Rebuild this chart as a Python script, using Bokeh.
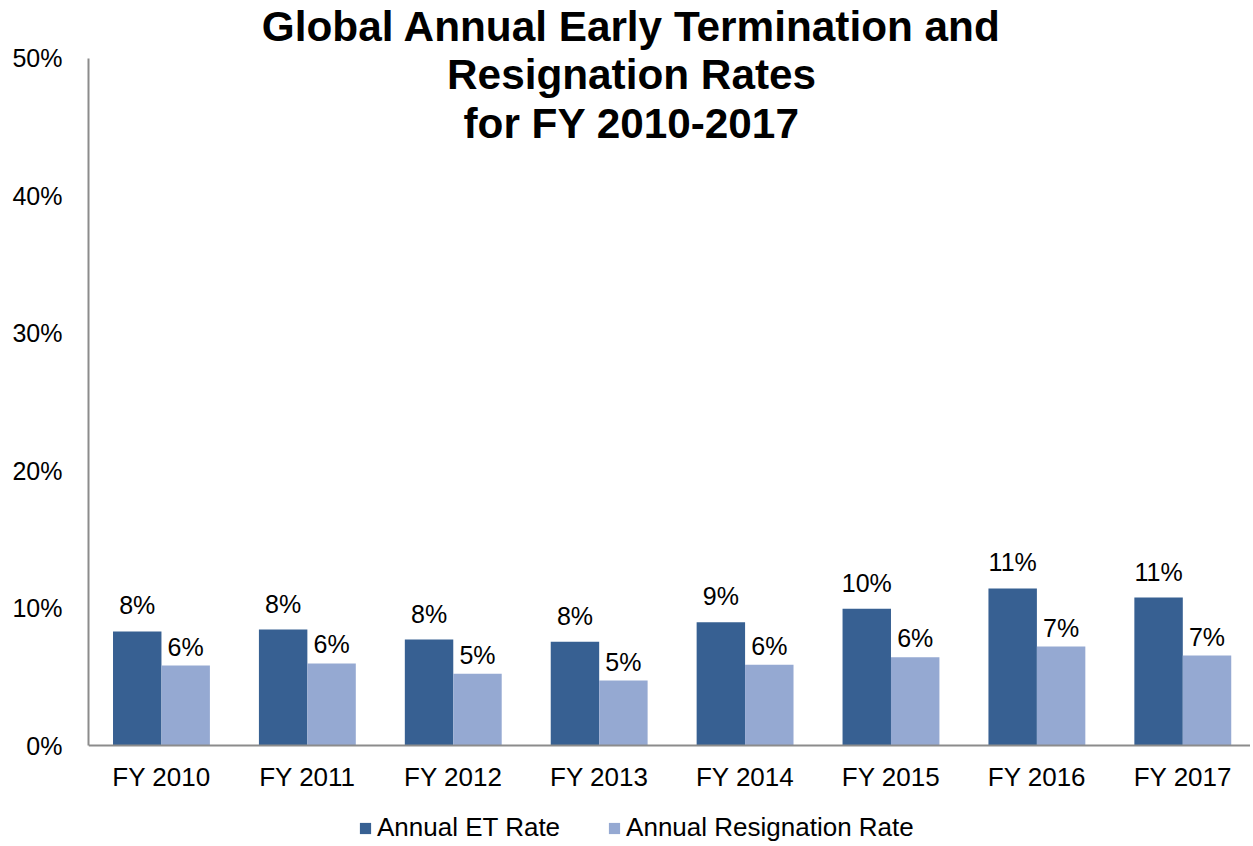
import numpy as np
from bokeh.plotting import figure
from bokeh.models import (ColumnDataSource, Range1d, FixedTicker, PrintfTickFormatter,
                          Legend, LegendItem, Span)
from bokeh.transform import dodge
from bokeh.core.properties import value
from bokeh.embed import file_html
from bokeh.resources import INLINE

# ---- data ----
categories = ["FY 2010", "FY 2011", "FY 2012", "FY 2013", "FY 2014", "FY 2015", "FY 2016", "FY 2017"]
et_rate = [8.30, 8.44, 7.71, 7.55, 8.97, 9.95, 11.43, 10.77]
resignation_rate = [5.82, 5.97, 5.22, 4.73, 5.87, 6.43, 7.20, 6.55]
y_ticks = [0, 10, 20, 30, 40, 50]
title_lines = ["Global Annual Early Termination and", "Resignation Rates", "for FY 2010-2017"]
series_names = ["Annual ET Rate", "Annual Resignation Rate"]

ET_COLOR = "#376092"
RES_COLOR = "#95A9D2"
FONT = "Liberation Sans"
AX = "#8c8c8c"

n = len(categories)
xpos = np.arange(n) + 0.5
src = ColumnDataSource(dict(
    x=xpos,
    cat=categories,
    zero=[0] * n,
    et=et_rate,
    res=resignation_rate,
    et_lbl=[f"{round(v)}%" for v in et_rate],
    res_lbl=[f"{round(v)}%" for v in resignation_rate],
))

W, H = 1250, 843
p = figure(width=W, height=H, output_backend="svg", toolbar_location=None,
           x_axis_location=None,
           x_range=Range1d(0, 7.964), y_range=Range1d(-7.13, 54.22),
           min_border_left=88, min_border_right=0, min_border_top=0, min_border_bottom=0)
p.outline_line_color = None
p.xgrid.visible = False
p.ygrid.visible = False
p.background_fill_color = "white"
p.border_fill_color = "white"

bw = 0.332
r_et = p.vbar(x=dodge("x", -bw / 2, range=p.x_range), top="et", width=bw, source=src,
              fill_color=ET_COLOR, line_color=None)
r_res = p.vbar(x=dodge("x", bw / 2, range=p.x_range), top="res", width=bw, source=src,
               fill_color=RES_COLOR, line_color=None)

# category axis line and labels
p.add_layout(Span(location=0, dimension="width", line_color=AX, line_width=2))
p.text(x="x", y="zero", text="cat", source=src, text_align="center",
       text_baseline="middle", y_offset=31, text_font=value(FONT),
       text_font_size="26px", text_color="black")

# data labels
p.text(x=dodge("x", -bw / 2, range=p.x_range), y="et", text="et_lbl", source=src,
       text_align="center", text_baseline="middle", y_offset=-26,
       text_font=value(FONT), text_font_size="25px", text_color="black")
p.text(x=dodge("x", bw / 2, range=p.x_range), y="res", text="res_lbl", source=src,
       text_align="center", text_baseline="middle", y_offset=-19,
       text_font=value(FONT), text_font_size="25px", text_color="black")

# title
title_src = ColumnDataSource(dict(
    x=[3.722] * len(title_lines),
    y=[52.33 - i * 3.53 for i in range(len(title_lines))],
    t=title_lines,
))
p.text(x="x", y="y", text="t", source=title_src, text_align="center",
       text_baseline="middle", text_font=value(FONT), text_font_size="42.3px",
       text_font_style="bold", text_color="black")

# value axis
p.yaxis.ticker = FixedTicker(ticks=y_ticks)
p.yaxis.formatter = PrintfTickFormatter(format="%d%%")
p.yaxis.bounds = (0, 50)
p.yaxis.axis_line_color = AX
p.yaxis.axis_line_width = 2
p.yaxis.major_tick_line_color = None
p.yaxis.minor_tick_line_color = None
p.yaxis.major_tick_out = 0
p.yaxis.major_tick_in = 0
p.yaxis.major_label_standoff = 26
p.yaxis.major_label_text_font = FONT
p.yaxis.major_label_text_font_size = "25px"
p.yaxis.major_label_text_color = "black"

legend = Legend(items=[LegendItem(label=series_names[0], renderers=[r_et]),
                       LegendItem(label=series_names[1], renderers=[r_res])],
                orientation="horizontal", location=(270, 0),
                glyph_width=14, glyph_height=14, label_standoff=5, spacing=47,
                padding=0, margin=0, border_line_color=None, background_fill_alpha=0,
                label_text_font=FONT, label_text_font_size="26px", label_text_color="black")
p.add_layout(legend, "center")

open("out.html", "w").write(file_html(p, INLINE))
